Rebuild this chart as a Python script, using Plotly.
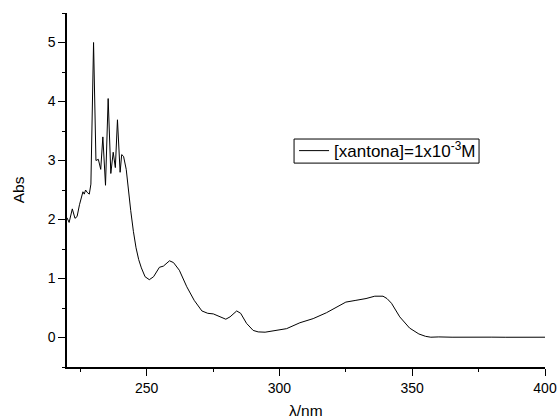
import plotly.graph_objects as go

wavelength = [220, 220.8, 222, 223, 223.8, 224.7, 226, 226.5, 227, 227.6, 228.4, 229,
              230, 230.9, 231.8, 232.7, 233.5, 234.5, 235.5, 236.5, 237.4, 238.2, 239,
              240, 240.6, 241.3, 242.3, 243.2, 244, 245, 246, 247, 248, 249.4, 251,
              252.6, 254, 254.8, 256.3, 258.6, 260.1, 262.3, 265.1, 267.9, 270.8, 273,
              275.1, 277.7, 279.8, 281.4, 283.9, 285.4, 287.6, 290.1, 292, 294.6, 297.7,
              302.7, 307.7, 312.7, 317.7, 321.5, 325, 328.8, 332.6, 335.9, 339, 340.5,
              342.2, 345.3, 349, 352.5, 355, 357, 360, 365, 370, 375, 380, 385, 390, 395, 400]
absorbance = [2.03, 1.95, 2.18, 2.02, 2.05, 2.25, 2.47, 2.43, 2.50, 2.46, 2.43, 2.60,
              5.0, 3.0, 3.02, 2.85, 3.40, 2.58, 4.05, 2.78, 3.14, 2.88, 3.69,
              2.80, 3.10, 3.07, 2.85, 2.45, 2.15, 1.80, 1.52, 1.32, 1.18, 1.03, 0.98,
              1.03, 1.12, 1.19, 1.21, 1.30, 1.27, 1.14, 0.86, 0.63, 0.45, 0.41,
              0.40, 0.35, 0.31, 0.35, 0.45, 0.41, 0.24, 0.12, 0.095, 0.09, 0.11,
              0.15, 0.25, 0.32, 0.42, 0.52, 0.60, 0.63, 0.66, 0.70, 0.70, 0.66,
              0.58, 0.35, 0.16, 0.06, 0.02, 0.005, 0.01, 0.005, 0.008, 0.005, 0.006, 0.004, 0.005, 0.004, 0.005]

series_name = "[xantona]=1x10<sup>-3</sup>M"
x_ticks = [250, 300, 350, 400]
y_ticks = [0, 1, 2, 3, 4, 5]
x_title = "λ/nm"
y_title = "Abs"

FONT = "Liberation Sans, Arial, sans-serif"

fig = go.Figure()
fig.add_trace(go.Scatter(x=wavelength, y=absorbance, mode="lines", name=series_name,
                         line=dict(color="black", width=1)))

axis_common = dict(showgrid=False, zeroline=False, automargin=False,
                   showline=True, linecolor="black", linewidth=1.5,
                   ticks="outside", ticklen=7, tickwidth=1.2, tickcolor="black",
                   tickfont=dict(size=14))

fig.update_layout(
    width=557, height=419,
    margin=dict(l=67, r=12, t=13, b=52),
    paper_bgcolor="white", plot_bgcolor="white",
    font=dict(family=FONT, size=14, color="black"),
    showlegend=True,
    legend=dict(x=0.475, y=0.610, xanchor="left", yanchor="middle",
                borderwidth=0, bgcolor="rgba(0,0,0,0)",
                tracegroupgap=0, itemwidth=30,
                font=dict(family=FONT, size=17, color="black")),
    xaxis=dict(range=[220, 400], tickvals=x_ticks,
               minor=dict(dtick=25, tick0=0, ticks="outside", ticklen=3, tickwidth=1.2, tickcolor="black"),
               **axis_common),
    yaxis=dict(range=[-0.5, 5.5], tickvals=y_ticks,
               minor=dict(dtick=0.5, tick0=0, ticks="outside", ticklen=3, tickwidth=1.2, tickcolor="black"),
               **axis_common),
    shapes=[
        dict(type="rect", xref="paper", yref="paper", x0=0.475, x1=0.862, y0=0.576, y1=0.644,
             line=dict(color="black", width=1), fillcolor="rgba(0,0,0,0)", layer="above"),
    ],
    annotations=[
        dict(text=x_title, xref="paper", yref="paper", x=0.5, y=-0.124, xanchor="center",
             yanchor="middle", showarrow=False, font=dict(size=15.5)),
        dict(text=y_title, xref="paper", yref="paper", x=-0.102, y=0.5, xanchor="center",
             yanchor="middle", showarrow=False, textangle=-90, font=dict(size=15.5)),
    ],
)

fig.write_html("out.html", config={"displayModeBar": False},
               post_script="document.body.style.margin='0';document.body.style.overflow='hidden';")
